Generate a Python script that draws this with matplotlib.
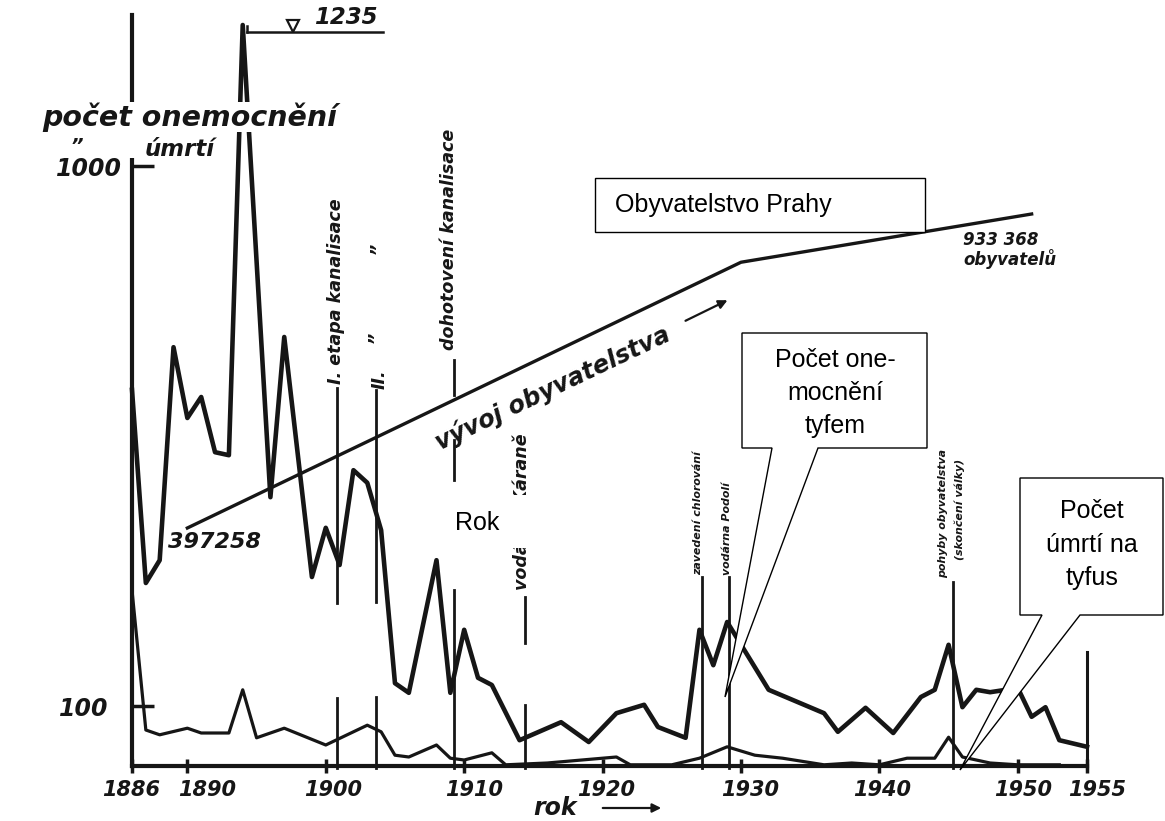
import matplotlib
matplotlib.use("Agg")
import matplotlib.pyplot as plt
from matplotlib import font_manager as fm
from matplotlib.patches import Polygon, Rectangle, FancyArrowPatch
from matplotlib.transforms import blended_transform_factory, ScaledTranslation
import numpy as np

# ---------------- data ----------------
case_years = [1886, 1887, 1888, 1889, 1890, 1891, 1892, 1893, 1894, 1896, 1897, 1899,
              1900, 1901, 1902, 1903, 1904, 1905, 1906, 1908, 1909, 1910, 1911, 1912,
              1914, 1917, 1919, 1921, 1923, 1924, 1926, 1927, 1928, 1929, 1932, 1936,
              1937, 1939, 1941, 1943, 1944, 1945, 1946, 1947, 1948, 1950, 1951, 1952,
              1953, 1955]
cases = [627, 305, 343, 698, 580, 615, 523, 518, 1235, 448, 715, 315,
         397, 335, 493, 472, 393, 138, 122, 343, 122, 227, 147, 135,
         43, 73, 40, 88, 102, 65, 47, 227, 168, 240, 127, 88,
         57, 97, 55, 115, 127, 202, 98, 127, 123, 130, 82, 98,
         43, 32]

death_years = [1886, 1887, 1888, 1890, 1891, 1893, 1894, 1895, 1897, 1900, 1903, 1904,
               1905, 1906, 1908, 1909, 1910, 1912, 1913, 1916, 1921, 1922, 1925, 1927,
               1929, 1931, 1933, 1936, 1938, 1940, 1942, 1944, 1945, 1946, 1948, 1950, 1953]
deaths = [293, 60, 52, 63, 55, 55, 127, 47, 63, 35, 68, 57,
          18, 15, 35, 13, 10, 22, 2, 5, 15, 2, 2, 13,
          32, 18, 13, 2, 5, 2, 13, 13, 48, 15, 5, 2, 2]

pop_years = [1890, 1930, 1951]
population = [397258, 851000, 933368]

xtick_years = [1886, 1890, 1900, 1910, 1920, 1930, 1940, 1950, 1955]
xtick_labels = ["1886", "1890", "1900", "1910", "1920", "1930", "1940", "1950", "1955"]
ytick_vals = [100, 1000]
ytick_labels = ["100", "1000"]

event_years = [1900.8, 1903.6, 1909.3, 1914.4, 1927.2, 1929.1, 1945.3]

# ---------------- fonts ----------------
def font_ok(name):
    try:
        fm.findfont(fm.FontProperties(family=name), fallback_to_default=False)
        return True
    except Exception:
        return False

if font_ok("Liberation Sans Narrow"):
    NARROW, NSCALE = "Liberation Sans Narrow", 1.0
else:
    NARROW, NSCALE = "DejaVu Sans", 0.72
HAND = "DejaVu Sans"
BOX = "Liberation Sans" if font_ok("Liberation Sans") else "DejaVu Sans"
INK = "#161616"

# ---------------- figure / axes ----------------
W, H = 1165, 821
fig = plt.figure(figsize=(W / 100, H / 100), dpi=100)
fig.patch.set_facecolor("white")

def FP(x, y):
    return (x / W, 1 - y / H)

X0, X1, Y0, Y1 = 132, 1087, 766, 15
ax = fig.add_axes([X0 / W, 1 - Y0 / H, (X1 - X0) / W, (Y0 - Y1) / H])
ax.set_xlim(xtick_years[0], xtick_years[-1])
ax.set_ylim(0, (Y0 - Y1) / 0.6)
ax.set_facecolor("none")
for s in ("top", "right"):
    ax.spines[s].set_visible(False)
for s in ("left", "bottom"):
    ax.spines[s].set_linewidth(3)
    ax.spines[s].set_color(INK)

ax.set_xticks(xtick_years, labels=xtick_labels)
ax.tick_params(axis="x", direction="inout", length=10, width=2.5, pad=5,
               labelsize=15, colors=INK)
label_shift_px = [-1, 20, 7, 10, 4, 9, 3, 5, 10]
for lbl, sh in zip(ax.get_xticklabels(), label_shift_px):
    lbl.set_fontweight("bold"); lbl.set_fontstyle("italic"); lbl.set_family(HAND)
    lbl.set_transform(lbl.get_transform() + ScaledTranslation(sh / 100, 0, fig.dpi_scale_trans))
ax.set_yticks(ytick_vals, labels=ytick_labels)
ax.tick_params(axis="y", direction="in", length=16, width=2.5, pad=7,
               labelsize=17, colors=INK)
for lbl in ax.get_yticklabels():
    lbl.set_fontweight("bold"); lbl.set_fontstyle("italic"); lbl.set_family(HAND)
ylb = ax.get_yticklabels()
ylb[0].set_transform(ylb[0].get_transform() + ScaledTranslation(-14 / 100, 0, fig.dpi_scale_trans))

# curves
ax.plot(case_years, cases, color=INK, lw=3.3, solid_joinstyle="round", zorder=4, clip_on=False)
ax.plot(death_years, deaths, color=INK, lw=2.3, solid_joinstyle="round", zorder=4, clip_on=False)

# population on its own (hidden) scale
ax2 = ax.twinx()
f1, f2 = (Y0 - 528) / (Y0 - Y1), (Y0 - 214) / (Y0 - Y1)
scale = (population[-1] - population[0]) / (f2 - f1)
lo = population[0] - f1 * scale
ax2.set_ylim(lo, lo + scale)
ax2.axis("off")
ax2.plot(pop_years, population, color=INK, lw=2.4, solid_joinstyle="round", zorder=4)

# event lines (x in data, y in figure pixels)
bt = blended_transform_factory(ax.transData, fig.transFigure)
event_segments = [[(388, 603), (698, 768)],
                  [(390, 602), (697, 768)],
                  [(360, 395), (440, 480), (590, 768)],
                  [(597, 643), (705, 768)],
                  [(577, 768)],
                  [(577, 768)],
                  [(582, 768)]]
for yr, segs in zip(event_years, event_segments):
    for a, b in segs:
        ax.plot([yr, yr], [FP(0, a)[1], FP(0, b)[1]], transform=bt, color=INK,
                lw=2.0, zorder=3, clip_on=False)
ax.plot([xtick_years[-1]] * 2, [FP(0, 652)[1], FP(0, 768)[1]], transform=bt,
        color=INK, lw=2.2, zorder=3, clip_on=False)

def vlabel(idx, text, dx, ybottom, size, va="bottom"):
    return ax.text(event_years[idx], FP(0, ybottom)[1], text,
                   transform=bt + ScaledTranslation(dx / 100, 0, fig.dpi_scale_trans),
                   rotation=90, ha="center", va=va, fontsize=size * NSCALE,
                   family=NARROW, style="italic", weight="bold", color=INK, zorder=5)

vlabel(0, "I. etapa kanalisace", -1, 384, 17.5)
vlabel(1, "II.", 4, 389, 17.5)
vlabel(1, "\u201d", 0, 337, 17.5, va="center")
vlabel(1, "\u201d", 2, 248, 17.5, va="center")
vlabel(2, "dohotovení kanalisace", -5, 350, 17.5)
vlabel(3, "vodárna Káraně", -3, 590, 17.5)
vlabel(4, "zavedení chlorování", -4, 575, 11)
vlabel(5, "vodárna Podolí", -2, 575, 11)
vlabel(6, "pohyby obyvatelstva", -10, 578, 11)
vlabel(6, "(skončení války)", 7, 560, 11)

# peak annotation
pk = int(np.argmax(cases))
disp = ax.transData.transform((case_years[pk], cases[pk]))
pfx = fig.transFigure.inverted().transform(disp)[0]
fig.add_artist(plt.Line2D([pfx + 4 / W, FP(383, 0)[0]], [FP(0, 32)[1]] * 2,
                          transform=fig.transFigure, color=INK, lw=1.8))
fig.add_artist(plt.Line2D([pfx + 4 / W] * 2, [FP(0, 32)[1], FP(0, 26)[1]],
                          transform=fig.transFigure, color=INK, lw=1.8))
fig.add_artist(plt.Line2D([FP(293, 0)[0]], [FP(0, 26)[1]], transform=fig.transFigure,
                          marker="v", markersize=9, mfc="white", mec=INK, mew=1.6, ls="none"))
fig.text(*FP(314, 17), "%d" % cases[pk], ha="left", va="center", fontsize=16.5,
         family=HAND, style="italic", weight="bold", color=INK)

# axis titles (hand lettering)
fig.text(*FP(190, 117), "počet onemocnění", ha="center", va="center", fontsize=20.5,
         family=HAND, style="italic", weight="bold", color=INK, zorder=6,
         bbox=dict(fc="white", ec="none", pad=0.5))
fig.text(*FP(77, 147), "\u201d", ha="center", va="center", fontsize=14,
         family=HAND, style="italic", weight="bold", color=INK, zorder=6)
fig.text(*FP(180, 149), "úmrtí", ha="center", va="center", fontsize=16.5,
         family=HAND, style="italic", weight="bold", color=INK, zorder=6,
         bbox=dict(fc="white", ec="none", pad=0.5))
fig.add_artist(Rectangle(FP(128, 158), 8 / W, 30 / H, fc="white", ec="none", zorder=5,
                         transform=fig.transFigure))

fig.text(*FP(168, 542), "%d" % population[0], ha="left", va="center", fontsize=16,
         family=HAND, style="italic", weight="bold", color=INK)
fig.text(*FP(963, 250), "933 368\nobyvatelů", ha="left", va="center", fontsize=12,
         family=HAND, style="italic", weight="bold", color=INK, linespacing=0.95)

fig.text(*FP(553, 388), "vývoj obyvatelstva", rotation=25.5, rotation_mode="anchor",
         ha="center", va="center", fontsize=17.5, family=HAND, style="italic",
         weight="bold", color=INK)
fig.add_artist(FancyArrowPatch(FP(683, 322), FP(730, 299), arrowstyle="-|>",
                               mutation_scale=13, lw=1.6, color=INK,
                               transform=fig.transFigure))

fig.text(*FP(533, 808), "rok", ha="left", va="center", fontsize=17, family=HAND,
         style="italic", weight="bold", color=INK)
fig.add_artist(FancyArrowPatch(FP(600, 808), FP(664, 808), arrowstyle="-|>",
                               mutation_scale=13, lw=1.6, color=INK,
                               transform=fig.transFigure))

# ---------------- overlay boxes ----------------
def box(x0, y0, x1, y1, edge=True):
    fig.add_artist(Polygon([FP(x0, y0), FP(x1, y0), FP(x1, y1), FP(x0, y1)], closed=True,
                           fc="white", ec="black" if edge else "none", lw=1.0,
                           transform=fig.transFigure, zorder=10))

box(595, 178, 925, 232)
fig.text(*FP(615, 205), "Obyvatelstvo Prahy", ha="left", va="center", fontsize=18,
         family=BOX, color="black", zorder=11)

call1 = [(742, 333), (927, 333), (927, 448), (818, 448), (725, 697), (772, 448), (742, 448)]
fig.add_artist(Polygon([FP(*p) for p in call1], closed=True, fc="white", ec="black",
                       lw=1.0, transform=fig.transFigure, zorder=10))
fig.text(*FP(835, 393), "Počet one-\nmocnění\ntyfem", ha="center", va="center",
         fontsize=18, family=BOX, color="black", linespacing=1.45, zorder=11)

call2 = [(1020, 478), (1163, 478), (1163, 615), (1080, 615), (960, 770), (1042, 615), (1020, 615)]
fig.add_artist(Polygon([FP(*p) for p in call2], closed=True, fc="white", ec="black",
                       lw=1.0, transform=fig.transFigure, zorder=10))
fig.text(*FP(1092, 545), "Počet\númrtí na\ntyfus", ha="center", va="center",
         fontsize=18, family=BOX, color="black", linespacing=1.5, zorder=11)

box(448, 495, 547, 548, edge=False)
fig.text(*FP(455, 523), "Rok", ha="left", va="center", fontsize=18, family=BOX,
         color="black", zorder=11)

fig.savefig("out.png", dpi=100, facecolor="white")
